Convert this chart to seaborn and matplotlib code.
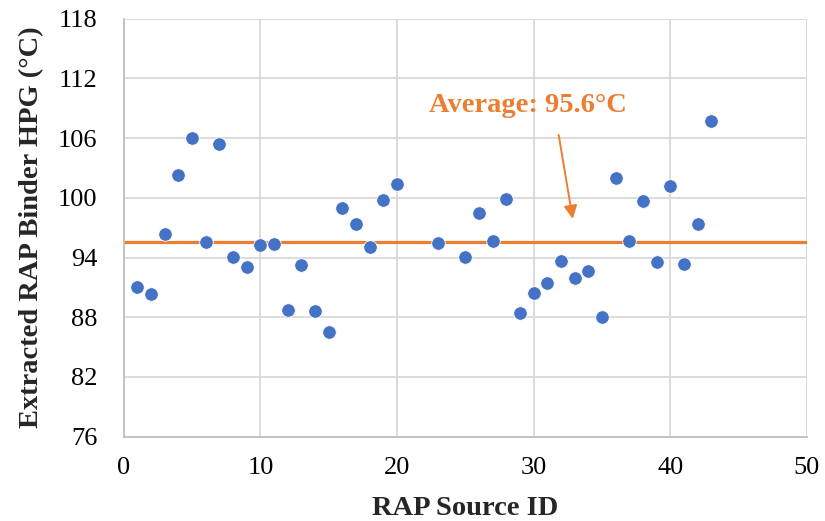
import numpy as np
import pandas as pd
import matplotlib
matplotlib.use("Agg")
import matplotlib.pyplot as plt
import seaborn as sns

# valores
source_id = [1, 2, 3, 4, 5, 6, 7, 8, 9, 10, 11, 12, 13, 14, 15, 16, 17, 18, 19, 20,
             23, 25, 26, 27, 28, 29, 30, 31, 32, 33, 34, 35, 36, 37, 38, 39, 40, 41, 42, 43]
hpg = [91.0, 90.3, 96.4, 102.3, 106.0, 95.6, 105.4, 94.1, 93.0, 95.3, 95.4, 88.7, 93.2, 88.6, 86.5,
       99.0, 97.4, 95.1, 99.8, 101.4,
       95.5, 94.1, 98.5, 95.7, 99.9, 88.4, 90.4, 91.4, 93.7, 91.9, 92.6, 88.0, 102.0, 95.7, 99.7,
       93.5, 101.2, 93.3, 97.4, 107.7]
average = 95.6

df = pd.DataFrame({"id": source_id, "hpg": hpg})

sns.set_style("white")
plt.rcParams['font.family'] = ['Liberation Serif', 'DejaVu Serif']

fig = plt.figure(figsize=(8.25, 5.21), dpi=100)
ax = fig.add_axes([0.150, 0.162, 0.828, 0.802])

sns.scatterplot(data=df, x="id", y="hpg", ax=ax, s=95, color="#4472C4",
                edgecolor="white", linewidth=0.6, zorder=3)
ax.axhline(average, color="#ED7D31", lw=2.3, zorder=2)

ax.annotate("", xy=(32.9, 97.6), xytext=(31.8, 106.6),
            arrowprops=dict(arrowstyle="-|>", color="#ED7D31", lw=1.4,
                            mutation_scale=20))
ax.text(29.6, 109.3, f"Average: {average}°C", color="#ED7D31", fontsize=20.5,
        fontweight="bold", ha="center", va="center")

ax.set_xlim(0, 50)
ax.set_ylim(76, 118)
ax.set_xticks(np.arange(0, 51, 10))
ax.set_yticks(np.arange(76, 119, 6))
ax.grid(True, color="#d9d9d9", lw=1.3)
ax.set_axisbelow(True)
for side in ["top", "right"]:
    ax.spines[side].set_visible(False)
for side in ["left", "bottom"]:
    ax.spines[side].set_color("#bfbfbf")
    ax.spines[side].set_linewidth(1.3)
ax.tick_params(axis="both", length=0, labelsize=19, colors="black")
ax.tick_params(axis="x", pad=15)
ax.tick_params(axis="y", pad=19)
ax.set_xlabel("RAP Source ID", fontsize=20.5, fontweight="bold", labelpad=12)
ax.set_ylabel("Extracted RAP Binder HPG (°C)", fontsize=20.5, fontweight="bold",
              labelpad=10)

plt.savefig("out.png", dpi=100)
